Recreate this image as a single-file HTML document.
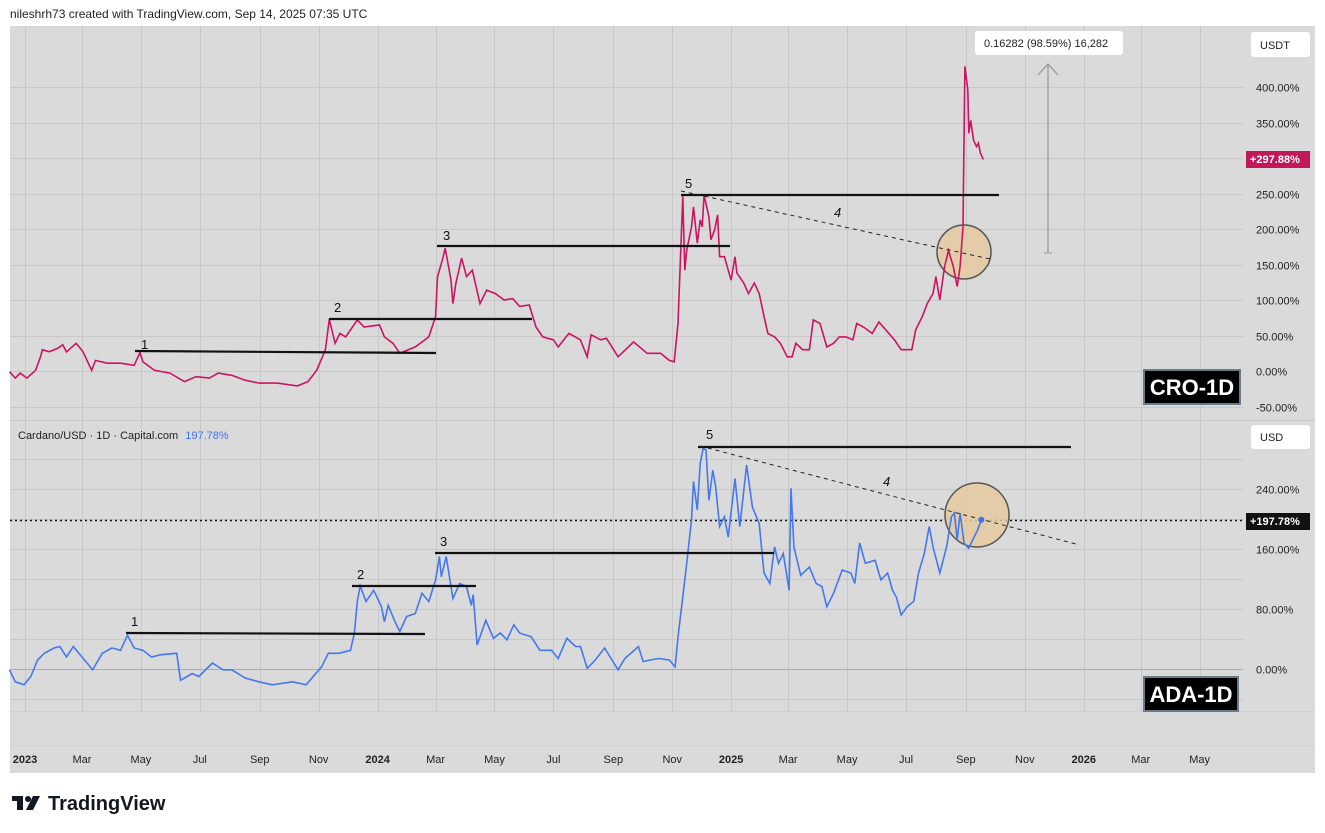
<!DOCTYPE html>
<html><head><meta charset="utf-8"><style>
body{margin:0;background:#fff;font-family:"Liberation Sans",sans-serif;}
svg{display:block}
</style></head><body>
<svg id="c" width="1325" height="833" viewBox="0 0 1325 833" xmlns="http://www.w3.org/2000/svg">
<rect x="0" y="0" width="1325" height="833" fill="#fff"/>
<text x="10" y="18" font-size="12" fill="#222">nileshrh73 created with TradingView.com, Sep 14, 2025 07:35 UTC</text>
<rect x="10" y="26" width="1305" height="747" fill="#dadada"/>
<g id="grid"></g>
<line x1="10" y1="420.5" x2="1315" y2="420.5" stroke="#c9c9c9"/>
<line x1="10" y1="711.5" x2="1315" y2="711.5" stroke="#d0d0d8"/>
<line x1="10" y1="745.5" x2="1315" y2="745.5" stroke="#d0d0d8"/>
<line x1="10" y1="669.5" x2="1243" y2="669.5" stroke="#a9a9c4"/>
<line x1="10" y1="520.5" x2="1243" y2="520.5" stroke="#111" stroke-dasharray="2,3" stroke-width="1.5"/>
<g id="xlabels"></g>
<g id="ylabels"></g>
<circle cx="964" cy="252" r="27" fill="#e6c9a0" fill-opacity="0.85" stroke="#555" stroke-width="1.5"/>
<circle cx="977" cy="515" r="32" fill="#e6c9a0" fill-opacity="0.85" stroke="#555" stroke-width="1.5"/>
<path id="croLine" fill="none" stroke="#cc1462" stroke-width="1.6"/>
<path id="adaLine" fill="none" stroke="#4478f0" stroke-width="1.6"/>
<!-- CRO annotations -->
<g stroke="#111" stroke-width="2.2">
<line x1="135" y1="351" x2="436" y2="353"/>
<line x1="329" y1="319" x2="532" y2="319"/>
<line x1="437" y1="246" x2="730" y2="246"/>
<line x1="681" y1="195" x2="999" y2="195"/>
</g>
<line x1="681" y1="191" x2="990" y2="259" stroke="#222" stroke-dasharray="4,4"/>
<g font-size="13" fill="#111">
<text x="141" y="349">1</text><text x="334" y="312">2</text><text x="443" y="240">3</text><text x="685" y="188">5</text><text x="834" y="217" font-style="italic">4</text>
</g>
<line x1="1048" y1="253" x2="1048" y2="65" stroke="#999" stroke-width="1.3"/>
<line x1="1044" y1="253" x2="1052" y2="253" stroke="#999"/>
<polyline points="1038,75 1048,64 1058,75" fill="none" stroke="#999" stroke-width="1.3"/>
<rect x="975" y="31" width="148" height="24" rx="3" fill="#fff"/>
<text x="984" y="47" font-size="11" fill="#222">0.16282 (98.59%) 16,282</text>
<rect x="1251" y="32" width="59" height="25" rx="3" fill="#fff"/>
<text x="1260" y="49" font-size="11" fill="#222">USDT</text>
<rect x="1246" y="151" width="64" height="17" fill="#c2185b"/>
<text x="1250" y="163" font-size="11" font-weight="bold" fill="#fff">+297.88%</text>
<rect x="1144" y="370" width="96" height="34" fill="#000" stroke="#6a7a88" stroke-width="2"/>
<text x="1192" y="395" font-size="22" font-weight="bold" fill="#fff" text-anchor="middle">CRO-1D</text>
<!-- ADA annotations -->
<text x="18" y="439" font-size="11" fill="#222">Cardano/USD · 1D · Capital.com <tspan fill="#3d74f5" dx="4">197.78%</tspan></text>
<g stroke="#111" stroke-width="2.2">
<line x1="126" y1="633" x2="425" y2="634"/>
<line x1="352" y1="586" x2="476" y2="586"/>
<line x1="435" y1="553" x2="774" y2="553"/>
<line x1="698" y1="447" x2="1071" y2="447"/>
</g>
<line x1="700" y1="446" x2="1076" y2="544" stroke="#222" stroke-dasharray="4,4"/>
<g font-size="13" fill="#111">
<text x="131" y="626">1</text><text x="357" y="579">2</text><text x="440" y="546">3</text><text x="706" y="439">5</text><text x="883" y="486" font-style="italic">4</text>
</g>
<circle id="adaDot" r="3" fill="#3d74f5"/>
<rect x="1251" y="425" width="59" height="24" rx="3" fill="#fff"/>
<text x="1260" y="441" font-size="11" fill="#222">USD</text>
<rect x="1246" y="513" width="64" height="17" fill="#111"/>
<text x="1250" y="525" font-size="11" font-weight="bold" fill="#fff">+197.78%</text>
<rect x="1144" y="677" width="94" height="34" fill="#000" stroke="#6a7a88" stroke-width="2"/>
<text x="1191" y="702" font-size="22" font-weight="bold" fill="#fff" text-anchor="middle">ADA-1D</text>
<!-- logo -->
<g>
<rect x="12" y="796" width="11" height="5" fill="#131722"/><rect x="17" y="796" width="6" height="14" fill="#131722"/>
<circle cx="28" cy="799" r="3" fill="#131722"/><polygon points="33,796 40,796 33,810 26,810" fill="#131722"/>
<text x="48" y="810" font-size="20" font-weight="bold" fill="#131722">TradingView</text>
</g>
</svg>
<script>
// ---- data: days since 2023-01-01, values in % ----
const croDays=[-16,-10,-5,2,11,16,18,25,34,39,43,53,60,69,73,85,99,113,119,122,134,150,165,177,191,200,214,228,242,261,282,293,302,311,315,321,326,332,344,351,367,372,381,388,404,418,425,427,432,435,441,443,446,452,457,463,471,478,487,496,505,512,522,529,536,547,552,563,575,582,586,596,602,614,630,644,658,667,672,676,681,683,685,690,692,696,699,701,703,708,710,714,717,719,724,731,735,737,744,749,755,760,765,769,776,782,789,794,798,805,812,816,823,830,837,843,850,857,861,868,877,884,891,900,907,918,922,929,934,940,943,947,952,956,961,965,968,971,973,976,977,979,982,985,987,989,992];
const croVals=[-1,-10,-3,-10,1,20,30,27,32,37,27,39,27,1,15,11,11,8,26,13,1,-3,-15,-8,-10,-3,-6,-13,-17,-17,-21,-15,1,30,73,39,53,48,72,62,65,48,39,25,34,48,77,133,156,173,128,95,123,159,133,142,95,114,109,100,102,91,93,62,48,44,34,53,44,20,51,44,46,20,41,25,25,15,13,67,246,142,170,203,231,180,213,203,248,217,185,199,220,161,161,128,161,138,124,109,124,109,77,53,48,39,20,20,39,30,30,72,67,34,39,48,48,44,67,62,53,69,58,44,30,30,58,77,95,109,133,100,147,170,147,119,147,203,429,396,335,353,325,316,321,307,298];
const adaDays=[-16,-10,-1,6,13,20,30,36,43,50,57,70,80,90,99,106,113,122,131,140,157,161,173,180,194,205,214,228,242,256,277,291,307,314,325,337,341,344,347,353,361,369,372,376,383,388,395,404,411,418,425,429,431,436,443,450,457,462,464,468,477,485,492,499,506,512,524,533,545,552,561,570,575,582,589,600,614,621,635,640,647,656,667,673,676,681,685,690,692,696,699,702,705,708,712,715,719,724,728,735,740,743,747,753,760,765,771,776,780,785,791,793,796,803,812,819,825,830,837,846,855,859,864,870,880,886,893,898,902,907,913,920,925,931,936,940,947,954,959,962,965,968,972,977,981,986,990];
const adaVals=[-1,-17,-21,-10,12,21,28,30,16,30,19,-1,21,28,25,45,28,25,16,19,21,-15,-6,-10,8,-1,-1,-12,-17,-21,-17,-21,3,21,21,25,48,90,111,90,105,83,63,85,63,50,70,74,101,90,119,150,123,150,94,114,110,85,99,32,65,41,48,39,59,48,43,25,25,14,41,30,30,1,10,28,-1,14,30,10,12,14,12,3,43,96,141,199,250,212,274,294,292,225,265,243,190,203,176,254,190,225,272,216,194,128,114,163,141,154,105,241,163,125,136,114,110,83,101,132,128,114,168,141,145,119,128,105,96,72,83,90,128,154,190,163,128,163,203,208,172,208,168,161,172,185,199];
const monthLabels=["2023","Mar","May","Jul","Sep","Nov","2024","Mar","May","Jul","Sep","Nov","2025","Mar","May","Jul","Sep","Nov","2026","Mar","May"];
const monthDays=[0,59,120,181,243,304,365,425,486,547,609,670,731,790,851,912,974,1035,1096,1155,1216];
const croTicks=[400,350,250,200,150,100,50,0,-50];
const adaTicks=[240,160,80,0];

const NS="http://www.w3.org/2000/svg";
const xOf=d=>25+d*0.966;
const yCro=v=>371-v*0.71;
const yAda=v=>669-v*0.75;
function mk(tag,attrs,parent){const e=document.createElementNS(NS,tag);for(const k in attrs)e.setAttribute(k,attrs[k]);parent.appendChild(e);return e;}
const grid=document.getElementById('grid');
const xl=document.getElementById('xlabels');
const yl=document.getElementById('ylabels');
monthDays.forEach((d,i)=>{
  const x=Math.round(xOf(d))+0.5;
  const g1=mk('line',{x1:x,y1:26,x2:x,y2:711,stroke:'#c8c8c8','stroke-width':1},grid);
  
  
  const t=mk('text',{x:xOf(d),y:763,'font-size':11,fill:'#222','text-anchor':'middle','font-weight':/^\d/.test(monthLabels[i])?'bold':'normal'},xl);
  t.textContent=monthLabels[i];
  
  
});
croTicks.forEach(v=>{
  const y=Math.round(yCro(v))+0.5;
  const l=mk('line',{x1:10,y1:y,x2:1243,y2:y,stroke:'#c8c8c8'},grid);
  
  
  const t=mk('text',{x:1256,y:y+4,'font-size':11,fill:'#222'},yl);
  t.textContent=v.toFixed(2)+'%';
  
  
});
[300].forEach(v=>{const y=Math.round(yCro(v))+0.5;mk('line',{x1:10,y1:y,x2:1243,y2:y,stroke:'#c8c8c8'},grid);});
adaTicks.forEach(v=>{
  const y=Math.round(yAda(v))+0.5;
  const l=mk('line',{x1:10,y1:y,x2:1243,y2:y,stroke:'#c8c8c8'},grid);
  
  
  const t=mk('text',{x:1256,y:y+4,'font-size':11,fill:'#222'},yl);
  t.textContent=v.toFixed(2)+'%';
  
  
});
[-40,40,120,200,280].forEach(v=>{const y=Math.round(yAda(v))+0.5;mk('line',{x1:10,y1:y,x2:1243,y2:y,stroke:'#c8c8c8'},grid);});
document.getElementById('croLine').setAttribute('d',croDays.map((d,i)=>(i?'L':'M')+xOf(d).toFixed(1)+','+yCro(croVals[i]).toFixed(1)).join(''));
document.getElementById('adaLine').setAttribute('d',adaDays.map((d,i)=>(i?'L':'M')+xOf(d).toFixed(1)+','+yAda(adaVals[i]).toFixed(1)).join(''));
const dot=document.getElementById('adaDot');
dot.setAttribute('cx',xOf(adaDays[adaDays.length-1]));
dot.setAttribute('cy',yAda(adaVals[adaVals.length-1]));
</script>
</body></html>
